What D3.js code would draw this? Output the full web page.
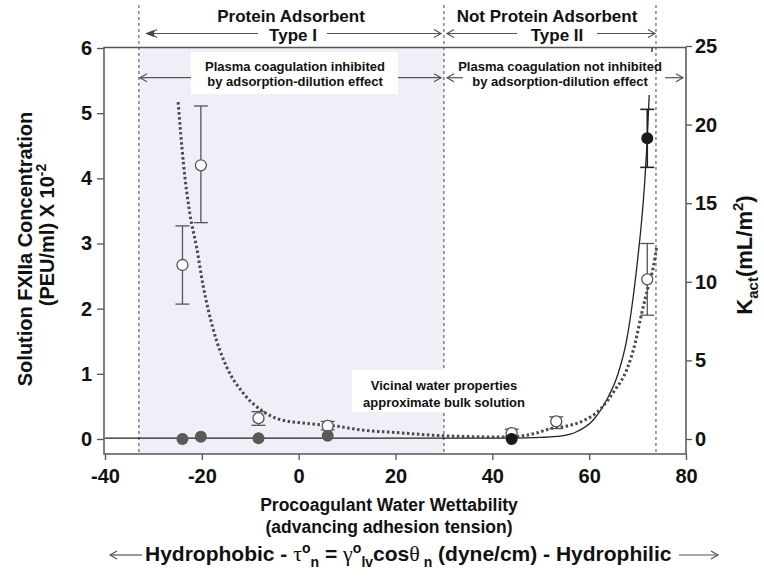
<!DOCTYPE html>
<html>
<head>
<meta charset="utf-8">
<script src="https://cdn.jsdelivr.net/npm/d3@7"></script>
<style>
  body { margin: 0; background: #fff; }
  svg text { font-family: "Liberation Sans", Arial, sans-serif; font-weight: bold; fill: #111; }
</style>
</head>
<body>
<svg id="chart" width="764" height="577"></svg>
<script>
// tick values
const xTicks = [-40, -20, 0, 20, 40, 60, 80];
const leftTicks = [0, 1, 2, 3, 4, 5, 6];
const rightTicks = [0, 5, 10, 15, 20, 25];

// region borders (adhesion tension)
const regionBounds = [-33, 30, 73.8];

// open circles: solution FXIIa (left axis)
const openX = [-24, -20.2, -8.3, 6, 44, 53.2, 72];
const openFXIIa = [2.67, 4.2, 0.32, 0.2, 0.09, 0.27, 2.45];
const openLow = [2.07, 3.32, 0.21, 0.14, 0.04, 0.16, 1.9];
const openHigh = [3.27, 5.11, 0.42, 0.27, 0.15, 0.34, 3.0];

// filled circles: Kact (right axis)
const filledX = [-24, -20.2, -8.3, 6, 44, 72];
const filledKact = [0, 0.15, 0.05, 0.2, 0, 19.13];
const filledLow = [null, null, null, null, null, 17.28];
const filledHigh = [null, null, null, null, null, 20.97];

// solid fit through Kact (right axis)
const kactFitX = [-40, 44, 50, 54, 57.4, 60.85, 63.6, 66.0, 67.75, 69.1, 70.15, 70.85, 71.5, 72.0, 72.4, 72.75, 73.0];
const kactFitY = [0.05, 0.05, 0.1, 0.18, 0.46, 1.21, 2.48, 4.18, 6.3, 9.05, 11.81, 13.93, 16.48, 19.13, 21.88, 23.6, 24.87];

// dotted fit through FXIIa (left axis)
const fxFitX = [-24.9, -23.8, -22.5, -21.1, -19.7, -17.6, -14.9, -11.4, -7.3, -3.9, 1.6, 8.5, 12.7, 20, 29.9, 43, 48.5, 52.6, 55.4, 58.8, 62.2, 65.3, 67.75, 69.5, 70.85, 72.2, 73.25, 73.95];
const fxFitY = [5.17, 4.23, 3.47, 2.95, 2.34, 1.67, 1.11, 0.70, 0.42, 0.30, 0.24, 0.19, 0.14, 0.10, 0.05, 0.03, 0.08, 0.17, 0.20, 0.28, 0.45, 0.75, 1.06, 1.47, 1.93, 2.34, 2.64, 2.95];

const svg = d3.select('#chart');

const x = d3.scaleLinear().domain([-40, 80]).range([105, 686]);
const yL = d3.scaleLinear().domain([0, 6]).range([439, 48]);
const yR = d3.scaleLinear().domain([0, 25]).range([439, 46]);

const frame = { left: 104, right: 686, top: 47.5, bottom: 454 };

// shaded Type I region
svg.append('rect')
  .attr('x', x(regionBounds[0]))
  .attr('y', frame.top)
  .attr('width', x(regionBounds[1]) - x(regionBounds[0]))
  .attr('height', frame.bottom - frame.top)
  .attr('fill', '#f0eff7');

// dashed region borders
svg.selectAll('line.bound')
  .data(regionBounds)
  .enter().append('line')
  .attr('class', 'bound')
  .attr('x1', d => x(d)).attr('x2', d => x(d))
  .attr('y1', 5).attr('y2', frame.bottom)
  .attr('stroke', '#444')
  .attr('stroke-width', 1)
  .attr('stroke-dasharray', '3,3');

// fitted curves
const solid = d3.line()
  .x((d, i) => x(kactFitX[i]))
  .y(d => yR(d))
  .curve(d3.curveMonotoneX);
svg.append('path')
  .attr('d', solid(kactFitY))
  .attr('fill', 'none')
  .attr('stroke', '#222')
  .attr('stroke-width', 1.3);

const dotted = d3.line()
  .x((d, i) => x(fxFitX[i]))
  .y(d => yL(d))
  .curve(d3.curveMonotoneX);
svg.append('path')
  .attr('d', dotted(fxFitY))
  .attr('fill', 'none')
  .attr('stroke', '#4a4a4a')
  .attr('stroke-width', 3)
  .attr('stroke-dasharray', '2.5,2.5');

// error bars
function errorBar(cx, lo, hi, color, width) {
  const g = svg.append('g').attr('stroke', color).attr('stroke-width', width);
  g.append('line').attr('x1', cx).attr('x2', cx).attr('y1', lo).attr('y2', hi);
  g.append('line').attr('x1', cx - 7).attr('x2', cx + 7).attr('y1', lo).attr('y2', lo);
  g.append('line').attr('x1', cx - 7).attr('x2', cx + 7).attr('y1', hi).attr('y2', hi);
}

openX.forEach((v, i) => errorBar(x(v), yL(openLow[i]), yL(openHigh[i]), '#555', 1.3));
svg.selectAll('circle.open')
  .data(openFXIIa)
  .enter().append('circle')
  .attr('class', 'open')
  .attr('cx', (d, i) => x(openX[i]))
  .attr('cy', d => yL(d))
  .attr('r', 5.5)
  .attr('fill', '#fff')
  .attr('stroke', '#555')
  .attr('stroke-width', 1.3);

filledX.forEach((v, i) => {
  if (filledLow[i] != null) errorBar(x(v), yR(filledLow[i]), yR(filledHigh[i]), '#222', 1.6);
});
svg.selectAll('circle.filled')
  .data(filledKact)
  .enter().append('circle')
  .attr('class', 'filled')
  .attr('cx', (d, i) => x(filledX[i]))
  .attr('cy', d => yR(d))
  .attr('r', 6)
  .attr('fill', (d, i) => filledX[i] > regionBounds[1] ? '#1a1a1a' : '#5a5a5a');

// white annotation boxes
[[191, 52, 207, 42], [455, 52, 199, 43], [352, 370, 186, 42]].forEach(b => {
  svg.append('rect').attr('x', b[0]).attr('y', b[1]).attr('width', b[2]).attr('height', b[3]).attr('fill', '#fff');
});

// arrows
const ann = svg.append('g').attr('stroke', '#555').attr('stroke-width', 1.2).attr('fill', 'none');
function arrow(x1, x2, y, tip) {
  ann.append('line').attr('x1', x1).attr('x2', x2).attr('y1', y).attr('y2', y);
  const dir = tip === x2 ? 1 : -1;
  ann.append('path').attr('d', `M${tip - dir * 7},${y - 4}L${tip},${y}L${tip - dir * 7},${y + 4}`);
}
svg.append('path').attr('d', 'M145,33.5L154,30L154,37Z').attr('fill', '#444');
arrow(150, 258, 33.5, 150);
arrow(327, 441, 33.5, 441);
arrow(447, 517, 33.5, 447);
arrow(597, 655, 33.5, 655);
arrow(140, 191, 77.7, 140);
arrow(398, 441, 77.7, 441);
arrow(447, 463, 77.7, 447);
arrow(665, 683, 77.7, 683);

// annotation texts
function label(txt, cx, cy, size) {
  svg.append('text').attr('x', cx).attr('y', cy).attr('text-anchor', 'middle')
    .style('font-size', size + 'px').text(txt);
}
label('Protein Adsorbent', 291, 22, 17);
label('Type I', 293, 41, 17);
label('Not Protein Adsorbent', 547, 22, 17);
label('Type II', 557, 41, 17);
label('Plasma coagulation inhibited', 295, 71, 13);
label('by adsorption-dilution effect', 295, 86, 13);
label('Plasma coagulation not inhibited', 560, 71, 13);
label('by adsorption-dilution effect', 560, 86, 13);
label('Vicinal water properties', 444, 389.5, 13);
label('approximate bulk solution', 444, 406.5, 13);

// frame
svg.append('rect')
  .attr('x', frame.left).attr('y', frame.top)
  .attr('width', frame.right - frame.left).attr('height', frame.bottom - frame.top)
  .attr('fill', 'none').attr('stroke', '#555').attr('stroke-width', 1.5);

// axes
function styleAxis(g) {
  g.select('.domain').remove();
  g.selectAll('line').attr('stroke', '#555').attr('stroke-width', 1.3);
  g.selectAll('text').style('font-size', '20px').attr('fill', '#111');
}
const plain = d => String(d);
svg.append('g').attr('transform', `translate(0,${frame.bottom})`)
  .call(d3.axisBottom(x).tickValues(xTicks).tickFormat(plain).tickSize(6).tickPadding(9))
  .call(styleAxis);
svg.append('g').attr('transform', `translate(${frame.left},0)`)
  .call(d3.axisLeft(yL).tickValues(leftTicks).tickFormat(plain).tickSize(7).tickPadding(5))
  .call(styleAxis);
svg.append('g').attr('transform', `translate(${frame.right},0)`)
  .call(d3.axisRight(yR).tickValues(rightTicks).tickFormat(plain).tickSize(6).tickPadding(3))
  .call(styleAxis);

// rich text helper: runs of {t, shift, size, serif}
function richText(sel, runs, baseSize) {
  let cur = 0;
  runs.forEach(r => {
    const shift = r.shift || 0;
    const ts = sel.append('tspan').attr('dy', shift - cur)
      .style('font-size', (r.size || baseSize) + 'px').text(r.t);
    if (r.serif) ts.style('font-family', '"Liberation Serif", "DejaVu Serif", serif').style('font-weight', 'normal');
    cur = shift;
  });
}

// axis titles
svg.append('text').attr('x', 389).attr('y', 511).attr('text-anchor', 'middle')
  .style('font-size', '17.5px').text('Procoagulant Water Wettability');
svg.append('text').attr('x', 389).attr('y', 533).attr('text-anchor', 'middle')
  .style('font-size', '17.5px').text('(advancing adhesion tension)');

const formula = svg.append('text').attr('x', 145).attr('y', 561);
richText(formula, [
  { t: 'Hydrophobic - ' },
  { t: 'τ', serif: true, size: 22 },
  { t: 'o', shift: -8, size: 14 },
  { t: 'n', shift: 6, size: 14 },
  { t: ' = ' },
  { t: 'γ', serif: true, size: 22 },
  { t: 'o', shift: -8, size: 14 },
  { t: 'lv', shift: 6, size: 14 },
  { t: 'cos' },
  { t: 'θ', serif: true, size: 22 },
  { t: ' n', shift: 6, size: 14 },
  { t: ' (dyne/cm) - Hydrophilic' }
], 21);
arrow(110, 142, 555, 110);
arrow(679, 718, 555, 718);

svg.append('text').attr('transform', 'translate(32,249) rotate(-90)')
  .attr('text-anchor', 'middle').style('font-size', '20px').text('Solution FXIIa Concentration');
const leftTitle2 = svg.append('text').attr('transform', 'translate(54,235) rotate(-90)')
  .attr('text-anchor', 'middle');
richText(leftTitle2, [
  { t: '(PEU/ml) X 10' },
  { t: '-2', shift: -8, size: 14 }
], 20);

const rightTitle = svg.append('text').attr('transform', 'translate(752,255) rotate(-90)')
  .attr('text-anchor', 'middle');
richText(rightTitle, [
  { t: 'K' },
  { t: 'act', shift: 6, size: 15 },
  { t: '(mL/m', shift: 0 },
  { t: '2', shift: -9, size: 15 },
  { t: ')', shift: 0 }
], 22);
</script>
</body>
</html>
